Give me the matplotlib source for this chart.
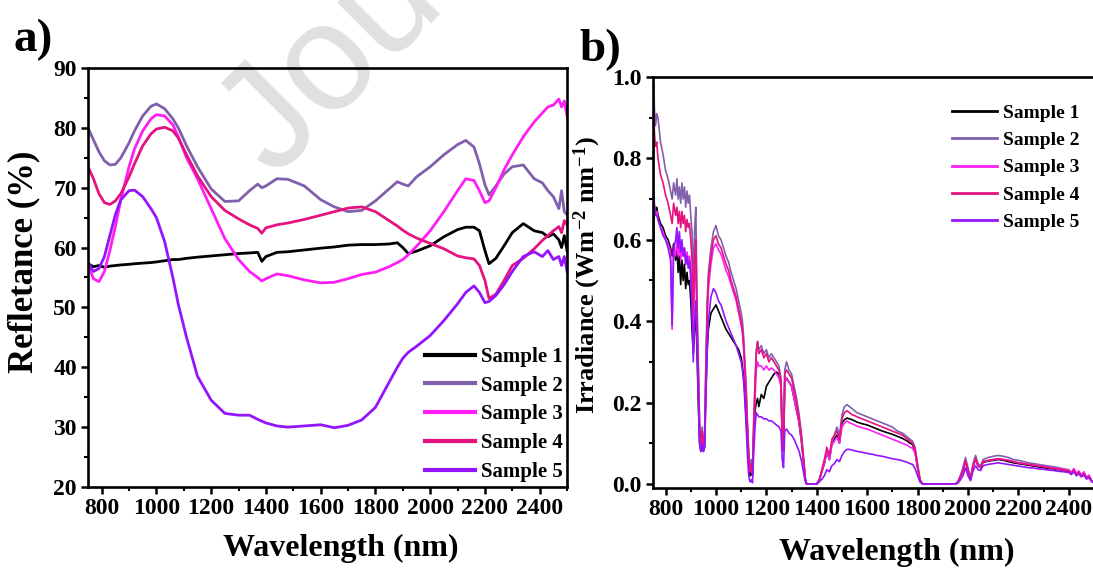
import matplotlib
matplotlib.use("Agg")
import matplotlib.pyplot as plt
from matplotlib.ticker import MultipleLocator

plt.rcParams['font.family'] = ['Liberation Serif', 'DejaVu Serif']
plt.rcParams['font.weight'] = 'bold'
plt.rcParams['axes.labelweight'] = 'bold'
plt.rcParams['mathtext.fontset'] = 'custom'
plt.rcParams['mathtext.rm'] = 'Liberation Serif:bold'
plt.rcParams['mathtext.bf'] = 'Liberation Serif:bold'
plt.rcParams['mathtext.it'] = 'Liberation Serif:bold'
plt.rcParams['mathtext.default'] = 'bf'

labels = ['Sample 1', 'Sample 2', 'Sample 3', 'Sample 4', 'Sample 5']
colors = ['#000000', '#8060ac', '#ff1ef5', '#e5137f', '#9414fb']

# ---- a) reflectance (%) ----
wl_a = [750, 770, 790, 810, 830, 850, 870, 900, 920, 950,
        980, 1000, 1030, 1060, 1080, 1110, 1150, 1200, 1250, 1300,
        1340, 1370, 1385, 1400, 1440, 1480, 1540, 1600, 1650, 1700,
        1750, 1800, 1850, 1880, 1900, 1920, 1950, 2000, 2050, 2100,
        2130, 2160, 2180, 2200, 2215, 2240, 2270, 2300, 2340, 2380,
        2410, 2430, 2450, 2470, 2480, 2490, 2500]
refl_s1 = [57.3, 56.8, 57.0, 56.7, 56.9, 57.0, 57.1, 57.2, 57.3, 57.4,
           57.5, 57.6, 57.8, 58.0, 58.0, 58.2, 58.4, 58.6, 58.8, 59.0,
           59.1, 59.2, 57.7, 58.5, 59.2, 59.3, 59.6, 59.9, 60.1, 60.4,
           60.5, 60.5, 60.6, 60.8, 60.0, 59.0, 59.4, 60.3, 61.8, 63.0,
           63.4, 63.4, 62.8, 59.5, 57.3, 58.2, 60.3, 62.5, 64.0, 62.8,
           62.5, 61.8, 62.3, 61.3, 60.0, 62.0, 59.5]
refl_s2 = [80.0, 78.0, 76.0, 74.5, 73.8, 73.9, 75.0, 77.5, 79.5, 82.0,
           83.6, 84.0, 83.2, 81.5, 80.0, 77.0, 73.5, 69.8, 67.7, 67.8,
           69.5, 70.6, 70.0, 70.3, 71.5, 71.4, 70.3, 68.0, 66.8, 66.0,
           66.2, 67.8, 69.8, 71.0, 70.6, 70.3, 71.8, 73.5, 75.5, 77.2,
           77.9, 76.8, 74.0, 70.5, 68.8, 70.3, 72.3, 73.5, 73.8, 71.5,
           70.8, 69.5, 68.5, 66.5, 69.5, 66.0, 65.5]
refl_s3 = [57.0, 54.8, 54.3, 56.0, 59.5, 63.5, 68.0, 73.5, 76.5, 79.5,
           81.5, 82.2, 82.0, 80.5, 78.5, 75.0, 71.5, 66.5, 61.5, 58.0,
           56.0, 55.0, 54.4, 54.8, 55.6, 55.3, 54.6, 54.1, 54.2, 54.8,
           55.5, 55.9, 56.8, 57.5, 58.0, 58.8, 60.2, 62.8, 66.0, 69.5,
           71.5, 71.2, 69.5, 67.5, 67.8, 70.0, 73.0, 75.5, 78.5, 81.0,
           82.5, 83.5, 83.8, 84.8, 83.5, 84.5, 82.0]
refl_s4 = [73.5, 71.5, 69.0, 67.5, 67.2, 67.8, 69.0, 71.8, 74.0, 77.0,
           79.0, 79.8, 80.1, 79.5, 78.3, 75.5, 72.0, 68.5, 66.2, 64.8,
           63.8, 63.2, 62.4, 63.3, 63.8, 64.1, 64.7, 65.4, 66.0, 66.6,
           66.8, 66.0, 64.5, 63.6, 62.9, 62.3, 61.6, 60.7, 59.8, 58.6,
           58.3, 58.1, 57.0, 54.5, 51.5, 52.2, 54.5, 57.0, 58.2, 59.8,
           61.2, 62.0, 62.8, 63.5, 62.5, 64.5, 63.8]
refl_s5 = [57.5, 56.0, 56.5, 58.5, 62.0, 65.5, 68.0, 69.5, 69.6, 68.5,
           66.5, 65.0, 61.0, 55.0, 50.5, 45.0, 38.5, 34.5, 32.3, 32.0,
           32.0, 31.3, 31.0, 30.7, 30.2, 30.0, 30.2, 30.4, 29.9, 30.3,
           31.2, 33.3, 37.5, 40.0, 41.5, 42.5, 43.5, 45.3, 47.8, 50.6,
           52.5, 53.6, 52.5, 50.8, 51.0, 52.0, 53.8, 56.0, 58.5, 59.3,
           58.5, 59.5, 58.0, 58.5, 57.0, 58.5, 56.0]

# ---- b) irradiance (W m-2 nm-1) ----
wl_b = [750, 753, 756, 760, 765, 770, 775, 780, 790, 800,
        810, 820, 826, 832, 840, 845, 850, 855, 860, 865,
        870, 875, 880, 885, 890, 895, 900, 905, 910, 915,
        920, 925, 930, 935, 940, 945, 950, 955, 960, 965,
        970, 980, 990, 1000, 1010, 1020, 1030, 1040, 1050, 1060,
        1070, 1080, 1090, 1100, 1105, 1110, 1115, 1120, 1125, 1130,
        1135, 1140, 1145, 1150, 1155, 1160, 1165, 1170, 1180, 1190,
        1200, 1210, 1220, 1230, 1240, 1250, 1258, 1263, 1268, 1273,
        1280, 1290, 1300, 1310, 1320, 1330, 1340, 1350, 1355, 1360,
        1380, 1400, 1410, 1420, 1430, 1440, 1450, 1460, 1470, 1480,
        1490, 1500, 1510, 1520, 1530, 1540, 1550, 1560, 1580, 1600,
        1620, 1640, 1660, 1680, 1700, 1720, 1740, 1760, 1770, 1780,
        1790, 1800, 1810, 1820, 1850, 1900, 1950, 1960, 1970, 1980,
        1990, 2000, 2010, 2020, 2030, 2040, 2050, 2060, 2080, 2100,
        2120, 2140, 2160, 2180, 2200, 2220, 2240, 2260, 2280, 2300,
        2320, 2340, 2360, 2380, 2400, 2410, 2420, 2430, 2440, 2450,
        2460, 2470, 2480, 2490, 2500]
irr_s1 = [0.12, 0.70, 0.68, 0.67, 0.68, 0.66, 0.65, 0.64, 0.63, 0.61,
          0.60, 0.58, 0.56, 0.59, 0.55, 0.58, 0.52, 0.56, 0.49, 0.55,
          0.50, 0.54, 0.48, 0.52, 0.49, 0.50, 0.45, 0.38, 0.32, 0.38,
          0.42, 0.32, 0.20, 0.10, 0.08, 0.10, 0.08, 0.09, 0.22, 0.33,
          0.38, 0.42, 0.43, 0.44, 0.425, 0.41, 0.395, 0.38, 0.37, 0.36,
          0.35, 0.34, 0.33, 0.31, 0.29, 0.26, 0.22, 0.16, 0.10, 0.05,
          0.02, 0.04, 0.02, 0.12, 0.18, 0.20, 0.21, 0.19, 0.22, 0.21,
          0.24, 0.25, 0.26, 0.27, 0.275, 0.27, 0.25, 0.10, 0.08, 0.25,
          0.26, 0.25, 0.24, 0.21, 0.18, 0.15, 0.10, 0.04, 0.01, 0.0,
          0.0, 0.0, 0.01, 0.03, 0.05, 0.08, 0.06, 0.10, 0.11, 0.12,
          0.10, 0.15, 0.158, 0.162, 0.16, 0.158, 0.155, 0.152, 0.148, 0.145,
          0.14, 0.135, 0.13, 0.126, 0.122, 0.117, 0.112, 0.105, 0.10, 0.097,
          0.08, 0.04, 0.008, 0.0, 0.0, 0.0, 0.0, 0.004, 0.018, 0.033,
          0.056, 0.033, 0.012, 0.043, 0.061, 0.045, 0.04, 0.053, 0.056, 0.058,
          0.06, 0.058, 0.055, 0.052, 0.05, 0.048, 0.046, 0.044, 0.042, 0.04,
          0.038, 0.037, 0.035, 0.033, 0.031, 0.026, 0.033, 0.024, 0.028, 0.02,
          0.025, 0.014, 0.018, 0.008, 0.003]
irr_s2 = [0.15, 0.98, 0.92, 0.88, 0.91, 0.90, 0.87, 0.84, 0.81, 0.77,
          0.75, 0.72, 0.70, 0.74, 0.71, 0.75, 0.70, 0.73, 0.69, 0.74,
          0.70, 0.73, 0.68, 0.72, 0.69, 0.71, 0.66, 0.62, 0.50, 0.62,
          0.68, 0.45, 0.30, 0.15, 0.10, 0.14, 0.09, 0.13, 0.30, 0.45,
          0.52, 0.58, 0.62, 0.635, 0.61, 0.60, 0.58, 0.56, 0.545, 0.52,
          0.50, 0.48, 0.45, 0.42, 0.40, 0.36, 0.30, 0.24, 0.15, 0.08,
          0.04, 0.06, 0.03, 0.16, 0.25, 0.33, 0.35, 0.33, 0.34, 0.32,
          0.33, 0.31, 0.32, 0.31, 0.30, 0.29, 0.26, 0.12, 0.09, 0.28,
          0.30, 0.28, 0.27, 0.24, 0.21, 0.17, 0.12, 0.05, 0.01, 0.0,
          0.0, 0.0, 0.01, 0.03, 0.05, 0.08, 0.06, 0.10, 0.12, 0.14,
          0.12, 0.17, 0.19, 0.195, 0.19, 0.185, 0.18, 0.175, 0.17, 0.165,
          0.16, 0.155, 0.15, 0.145, 0.14, 0.13, 0.125, 0.115, 0.11, 0.105,
          0.09, 0.05, 0.01, 0.0, 0.0, 0.0, 0.0, 0.005, 0.02, 0.04,
          0.065, 0.04, 0.015, 0.05, 0.07, 0.05, 0.045, 0.06, 0.065, 0.068,
          0.07, 0.068, 0.065, 0.06, 0.058, 0.055, 0.052, 0.05, 0.048, 0.046,
          0.044, 0.042, 0.04, 0.037, 0.035, 0.028, 0.036, 0.025, 0.03, 0.02,
          0.028, 0.015, 0.02, 0.008, 0.004]
irr_s3 = [0.13, 0.72, 0.68, 0.66, 0.67, 0.65, 0.64, 0.63, 0.62, 0.60,
          0.59, 0.57, 0.38, 0.58, 0.56, 0.60, 0.56, 0.59, 0.55, 0.58,
          0.56, 0.58, 0.54, 0.57, 0.55, 0.56, 0.53, 0.48, 0.38, 0.50,
          0.55, 0.38, 0.26, 0.13, 0.09, 0.12, 0.08, 0.11, 0.26, 0.40,
          0.48, 0.54, 0.58, 0.59, 0.575, 0.565, 0.545, 0.525, 0.51, 0.49,
          0.47, 0.45, 0.42, 0.39, 0.37, 0.33, 0.27, 0.21, 0.13, 0.065,
          0.03, 0.045, 0.025, 0.13, 0.21, 0.28, 0.30, 0.29, 0.29, 0.28,
          0.29, 0.28, 0.285, 0.28, 0.27, 0.26, 0.24, 0.10, 0.08, 0.25,
          0.26, 0.25, 0.24, 0.21, 0.18, 0.15, 0.10, 0.04, 0.01, 0.0,
          0.0, 0.0, 0.01, 0.03, 0.05, 0.08, 0.06, 0.095, 0.105, 0.115,
          0.10, 0.14, 0.15, 0.155, 0.15, 0.148, 0.145, 0.142, 0.138, 0.135,
          0.13, 0.125, 0.12, 0.115, 0.11, 0.105, 0.10, 0.095, 0.09, 0.088,
          0.075, 0.04, 0.008, 0.0, 0.0, 0.0, 0.0, 0.004, 0.018, 0.032,
          0.055, 0.032, 0.01, 0.042, 0.06, 0.045, 0.04, 0.054, 0.057, 0.06,
          0.062, 0.06, 0.058, 0.055, 0.052, 0.05, 0.048, 0.046, 0.045, 0.043,
          0.041, 0.04, 0.038, 0.036, 0.034, 0.028, 0.038, 0.026, 0.032, 0.022,
          0.03, 0.016, 0.022, 0.009, 0.004]
irr_s4 = [0.14, 0.91, 0.86, 0.83, 0.84, 0.80, 0.78, 0.76, 0.74, 0.71,
          0.69, 0.66, 0.64, 0.69, 0.66, 0.68, 0.64, 0.67, 0.63, 0.67,
          0.64, 0.66, 0.62, 0.65, 0.63, 0.64, 0.60, 0.55, 0.42, 0.55,
          0.60, 0.40, 0.28, 0.14, 0.10, 0.13, 0.09, 0.12, 0.28, 0.42,
          0.50, 0.56, 0.60, 0.61, 0.59, 0.58, 0.56, 0.54, 0.525, 0.50,
          0.48, 0.46, 0.43, 0.40, 0.38, 0.34, 0.28, 0.22, 0.14, 0.07,
          0.03, 0.05, 0.03, 0.15, 0.24, 0.32, 0.35, 0.32, 0.33, 0.31,
          0.32, 0.30, 0.31, 0.30, 0.29, 0.28, 0.25, 0.11, 0.085, 0.27,
          0.28, 0.27, 0.26, 0.23, 0.20, 0.16, 0.11, 0.045, 0.01, 0.0,
          0.0, 0.0, 0.01, 0.035, 0.06, 0.09, 0.07, 0.11, 0.12, 0.13,
          0.11, 0.16, 0.175, 0.18, 0.175, 0.17, 0.168, 0.165, 0.16, 0.155,
          0.15, 0.145, 0.14, 0.135, 0.13, 0.125, 0.12, 0.11, 0.105, 0.10,
          0.085, 0.045, 0.01, 0.0, 0.0, 0.0, 0.0, 0.005, 0.02, 0.035,
          0.058, 0.035, 0.012, 0.045, 0.062, 0.045, 0.04, 0.055, 0.058, 0.06,
          0.062, 0.06, 0.058, 0.055, 0.052, 0.05, 0.048, 0.046, 0.044, 0.042,
          0.04, 0.038, 0.036, 0.034, 0.032, 0.026, 0.034, 0.024, 0.028, 0.02,
          0.026, 0.014, 0.018, 0.008, 0.003]
irr_s5 = [0.09, 0.72, 0.68, 0.66, 0.66, 0.65, 0.64, 0.63, 0.61, 0.60,
          0.58, 0.55, 0.39, 0.58, 0.60, 0.63, 0.58, 0.62, 0.57, 0.60,
          0.56, 0.58, 0.54, 0.56, 0.53, 0.55, 0.50, 0.42, 0.30, 0.40,
          0.45, 0.33, 0.20, 0.10, 0.08, 0.10, 0.08, 0.09, 0.22, 0.32,
          0.40, 0.46, 0.48, 0.47, 0.45, 0.44, 0.42, 0.40, 0.385, 0.37,
          0.355, 0.34, 0.32, 0.30, 0.28, 0.25, 0.20, 0.14, 0.07, 0.02,
          0.005, 0.01, 0.003, 0.08, 0.14, 0.175, 0.17, 0.165, 0.165, 0.16,
          0.16, 0.155, 0.155, 0.15, 0.145, 0.14, 0.13, 0.06, 0.04, 0.13,
          0.135, 0.125, 0.12, 0.11, 0.095, 0.08, 0.055, 0.02, 0.005, 0.0,
          0.0, 0.0, 0.005, 0.012, 0.02, 0.035, 0.03, 0.045, 0.05, 0.06,
          0.055, 0.07, 0.08, 0.085, 0.085, 0.083, 0.082, 0.08, 0.078, 0.075,
          0.073, 0.07, 0.068, 0.065, 0.062, 0.06, 0.057, 0.053, 0.05, 0.048,
          0.038, 0.02, 0.004, 0.0, 0.0, 0.0, 0.0, 0.002, 0.01, 0.02,
          0.04, 0.02, 0.008, 0.032, 0.045, 0.035, 0.033, 0.045, 0.048, 0.05,
          0.052, 0.05, 0.048, 0.046, 0.044, 0.042, 0.04, 0.039, 0.037, 0.036,
          0.034, 0.033, 0.031, 0.03, 0.028, 0.023, 0.03, 0.02, 0.025, 0.017,
          0.022, 0.012, 0.015, 0.006, 0.002]

refl = [refl_s1, refl_s2, refl_s3, refl_s4, refl_s5]
irr = [irr_s1, irr_s2, irr_s3, irr_s4, irr_s5]
xticks = [800, 1000, 1200, 1400, 1600, 1800, 2000, 2200, 2400]

fig = plt.figure(figsize=(10.93, 5.68), dpi=100)

# faint watermark, partly off the top edge as in the source
fig.text(0.2507, 0.6866, 'Jou', fontsize=110, color='#e0e0e0',
         family='Liberation Sans', weight='normal', rotation=45,
         rotation_mode='anchor', ha='left', va='baseline', zorder=-5)


def style_axes(ax):
    for sp in ax.spines.values():
        sp.set_linewidth(1.9)
    ax.tick_params(which='major', direction='out', length=5, width=1.8,
                   labelsize=17, pad=3)
    ax.tick_params(which='minor', direction='out', length=3, width=1.5)
    ax.set_xticks(xticks)
    ax.xaxis.set_minor_locator(MultipleLocator(100))
    ax.set_facecolor('none')


ax1 = fig.add_axes([0.0805, 0.1426, 0.4383, 0.7377])
for y, lab, c in zip(refl, labels, colors):
    ax1.plot(wl_a, y, color=c, lw=2.0, label=lab)
ax1.set_xlim(750, 2500)
ax1.set_ylim(20, 90)
style_axes(ax1)
ax1.yaxis.set_major_locator(MultipleLocator(10))
ax1.yaxis.set_minor_locator(MultipleLocator(5))
ax1.set_xlabel('Wavelength (nm)', fontsize=23)
ax1.set_ylabel('Refletance (%)', fontsize=25)
ax1.xaxis.set_label_coords(0.528, -0.112)
ax1.yaxis.set_label_coords(-0.1, 0.537)
leg1 = ax1.legend(loc='lower right', bbox_to_anchor=(0.992, 0.012),
                  frameon=False, fontsize=15, handlelength=2.4,
                  handletextpad=0.3, labelspacing=0.42, borderpad=0,
                  borderaxespad=0)
for ln in leg1.get_lines():
    ln.set_linewidth(3)

ax2 = fig.add_axes([0.5974, 0.1408, 0.4035, 0.7236])
for y, lab, c in zip(irr, labels, colors):
    ax2.plot(wl_b, y, color=c, lw=1.2, label=lab)
ax2.set_xlim(750, 2500)
ax2.set_ylim(-0.01, 1.0)
style_axes(ax2)
ax2.yaxis.set_minor_locator(MultipleLocator(0.1))
ax2.set_yticks([0.0, 0.2, 0.4, 0.6, 0.8, 1.0])
ax2.set_yticklabels(['0.0', '0.2', '0.4', '0.6', '0.8', '1.0'])
ax2.set_xlabel('Wavelength (nm)', fontsize=23)
ax2.set_ylabel('Irradiance (Wm$^{-2}$ nm$^{-1}$)', fontsize=19)
ax2.xaxis.set_label_coords(0.553, -0.122)
ax2.yaxis.set_label_coords(-0.113, 0.518)
leg2 = ax2.legend(loc='upper left', bbox_to_anchor=(0.678, 0.934),
                  frameon=False, fontsize=14, handlelength=2.3,
                  handletextpad=0.3, labelspacing=0.5, borderpad=0,
                  borderaxespad=0)
for ln in leg2.get_lines():
    ln.set_linewidth(2)

fig.text(0.012, 0.93, 'a)', fontsize=34, weight='bold', va='center')
fig.text(0.530, 0.913, 'b)', fontsize=34, weight='bold', va='center')

fig.savefig('out.png', dpi=100)
